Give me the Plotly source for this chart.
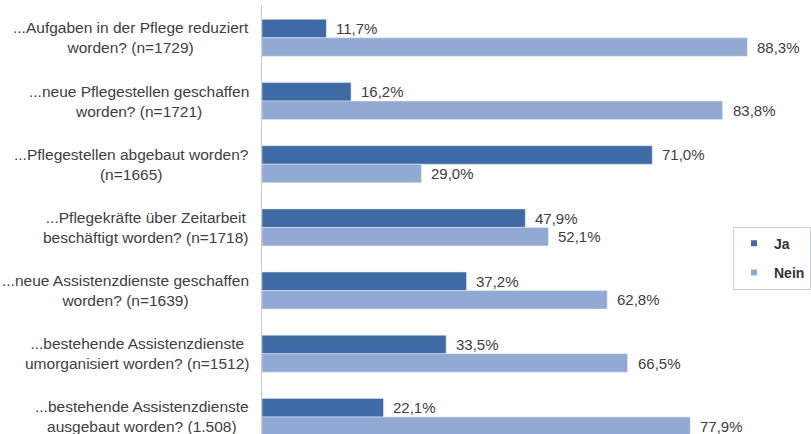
import plotly.graph_objects as go

# Survey questions (two-line labels) and answer shares in percent
categories = [
    "...Aufgaben in der Pflege reduziert<br>worden? (n=1729)",
    "...neue Pflegestellen geschaffen<br>worden? (n=1721)",
    "...Pflegestellen abgebaut worden?<br>(n=1665)",
    "...Pflegekräfte über Zeitarbeit<br>beschäftigt worden? (n=1718)",
    "...neue Assistenzdienste geschaffen<br>worden? (n=1639)",
    "...bestehende Assistenzdienste<br>umorganisiert worden? (n=1512)",
    "...bestehende Assistenzdienste<br>ausgebaut worden? (1.508)",
]
ja = [11.7, 16.2, 71.0, 47.9, 37.2, 33.5, 22.1]
nein = [88.3, 83.8, 29.0, 52.1, 62.8, 66.5, 77.9]

COLOR_JA = "#3E6AA5"
COLOR_NEIN = "#92A9D4"
TEXT = "#404040"
FONT = "Liberation Sans, Arial, sans-serif"


def pct(v):
    return f"{v:.1f}".replace(".", ",") + "%"


fig = go.Figure()
fig.add_trace(go.Bar(y=categories, x=ja, orientation="h", name="Ja",
                     marker=dict(color=COLOR_JA), showlegend=False))
fig.add_trace(go.Bar(y=categories, x=nein, orientation="h", name="Nein",
                     marker=dict(color=COLOR_NEIN), showlegend=False))

# Legend entries with small square swatches
fig.add_trace(go.Scatter(x=[None], y=[None], mode="markers", name="Ja",
                         marker=dict(symbol="square", size=6, color=COLOR_JA),
                         legendgroup="ja"))
fig.add_trace(go.Scatter(x=[None], y=[None], mode="markers", name="Nein",
                         marker=dict(symbol="square", size=6, color=COLOR_NEIN),
                         legendgroup="nein"))

annotations = []
# Value labels just past the end of each bar
for i, cat in enumerate(categories):
    for val, off in ((ja[i], -0.148), (nein[i], 0.148)):
        annotations.append(dict(
            x=val, y=i + off, xref="x", yref="y", text=pct(val),
            showarrow=False, xanchor="left", yanchor="middle", xshift=8,
            font=dict(size=15, color=TEXT, family=FONT),
        ))
    # Centered two-line question label left of the axis
    annotations.append(dict(
        x=0, y=i, xref="paper", yref="y", text=cat, align="center",
        showarrow=False, xanchor="right", yanchor="middle", xshift=-11,
        font=dict(size=15.5, color=TEXT, family=FONT),
    ))

fig.update_layout(
    width=811, height=434,
    margin=dict(l=262, r=0, t=5, b=0),
    paper_bgcolor="white", plot_bgcolor="white",
    barmode="group", bargap=0.415, bargroupgap=0,
    font=dict(family=FONT, color=TEXT),
    xaxis=dict(range=[0, 99.7], showgrid=False, zeroline=False,
               showticklabels=False, ticks="", showline=False),
    yaxis=dict(type="category", range=[6.27, -0.52], showgrid=False,
               zeroline=False, showticklabels=False, ticks="",
               showline=True, linecolor="#C8C8C8", linewidth=1),
    legend=dict(x=0.86, y=0.41, xanchor="left", yanchor="middle",
                bordercolor="#C8D0DC", borderwidth=1, bgcolor="white",
                font=dict(size=14, color="#333333", family=FONT, weight="bold"),
                traceorder="grouped", tracegroupgap=8, itemwidth=30),
    annotations=annotations,
)

fig.write_html("out.html")
